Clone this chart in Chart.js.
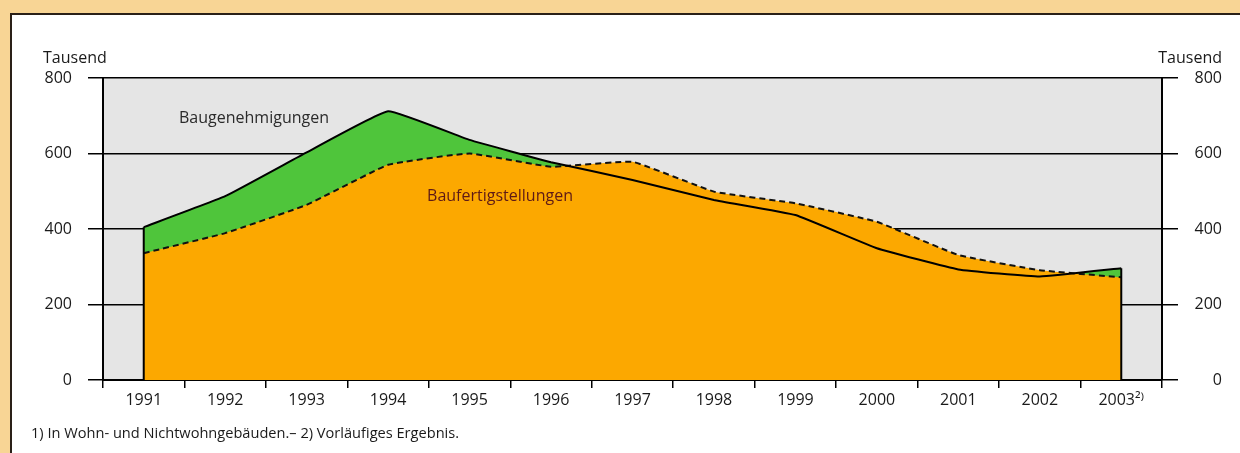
<!DOCTYPE html>
<html><head><meta charset="utf-8">
<script src="https://cdn.jsdelivr.net/npm/chart.js@4/dist/chart.umd.min.js"></script>
<style>
html,body{margin:0;padding:0;overflow:hidden;width:1240px;height:453px;background:#f8d595}
#panel{position:absolute;left:10px;top:13px;width:1240px;height:450px;background:#fff;border-left:2px solid #2a2018;border-top:2px solid #2a2018}
canvas{position:absolute;left:0;top:0;display:block;width:1240px;height:453px}
</style>
</head><body>
<div id="panel"></div>
<canvas id="c" width="1240" height="453"></canvas>
<script>
const years = ['1991','1992','1993','1994','1995','1996','1997','1998','1999','2000','2001','2002','2003\u00B2\u207E'];
const baugenehmigungen   = [405, 487, 603, 712, 636, 577, 530, 477, 437, 349, 293, 274, 296];
const baufertigstellungen = [336, 389, 464, 570, 600, 565, 578, 499, 468, 419, 331, 291, 272];
const yMin = 0, yMax = 800, yStep = 200;
const unitLabel = 'Tausend';
const seriesNames = ['Baugenehmigungen', 'Baufertigstellungen'];
const footnote = '1) In Wohn- und Nichtwohngeb\u00E4uden.\u2013 2) Vorl\u00E4ufiges Ergebnis.';

const FONT = "'Open Sans', 'DejaVu Sans', sans-serif";
Chart.defaults.font.family = FONT;
Chart.defaults.font.size = 16;
Chart.defaults.color = '#1a1a1a';

const framePlugin = {
  id: 'frame',
  beforeDraw(chart) {
    const ctx = chart.ctx, a = chart.chartArea;
    ctx.save();
    ctx.fillStyle = '#e5e5e5';
    ctx.fillRect(a.left, a.top, a.right - a.left, a.bottom - a.top);
    ctx.restore();
  },
  afterDatasetsDraw(chart) {
    const ctx = chart.ctx;
    const xs = chart.scales.x, ys = chart.scales.y;
    ctx.save();
    ctx.strokeStyle = '#000';
    ctx.lineWidth = 2;
    [0, years.length - 1].forEach(i => {
      const px = xs.getPixelForValue(i);
      const top = Math.max(baugenehmigungen[i], baufertigstellungen[i]);
      ctx.beginPath();
      ctx.moveTo(px, ys.getPixelForValue(top));
      ctx.lineTo(px, ys.getPixelForValue(0));
      ctx.stroke();
    });
    ctx.textBaseline = 'middle';
    ctx.font = '16px ' + FONT;
    ctx.fillStyle = '#1a1a1a';
    ctx.textAlign = 'left';
    ctx.fillText(unitLabel, 43, 58);
    ctx.textAlign = 'right';
    ctx.fillText(unitLabel, 1222, 58);
    ctx.textAlign = 'center';
    ctx.fillStyle = '#2b2b2b';
    ctx.fillText(seriesNames[0], 254, 118);
    ctx.fillStyle = '#5e1a16';
    ctx.fillText(seriesNames[1], 500, 196);
    ctx.textAlign = 'left';
    ctx.fillStyle = '#1a1a1a';
    ctx.font = '14.6px ' + FONT;
    ctx.fillText(footnote, 31, 434);
    ctx.restore();
  }
};

new Chart(document.getElementById('c'), {
  type: 'line',
  data: {
    labels: years,
    datasets: [
      { label: seriesNames[0], data: baugenehmigungen, borderColor: '#000', borderWidth: 2,
        fill: false, pointRadius: 0, tension: 0.1, yAxisID: 'y' },
      { label: seriesNames[1], data: baufertigstellungen, borderColor: '#111', borderWidth: 2,
        borderDash: [6, 4], fill: 'origin', backgroundColor: '#fca800', pointRadius: 0, tension: 0.1, yAxisID: 'y' },
      { label: seriesNames[0] + ' (Fl\u00E4che)', data: baugenehmigungen, borderColor: 'rgba(0,0,0,0)', borderWidth: 0,
        fill: 'origin', backgroundColor: '#4fc53b', pointRadius: 0, tension: 0.1, yAxisID: 'y' }
    ]
  },
  options: {
    responsive: false,
    animation: false,
    devicePixelRatio: 1,
    layout: { padding: { top: 78, right: 18, bottom: 0, left: 0 } },
    plugins: { legend: { display: false }, tooltip: { enabled: false } },
    scales: {
      x: {
        type: 'category', offset: true,
        grid: { offset: true, drawOnChartArea: false, drawTicks: true, tickLength: 8, color: '#000', lineWidth: 1.5 },
        border: { display: true, color: '#000', width: 2 },
        ticks: { padding: 3, color: '#1a1a1a', maxRotation: 0, autoSkip: false, font: { size: 16 } },
        afterFit: s => { s.height = 73; }
      },
      y: {
        position: 'left', min: yMin, max: yMax,
        ticks: { stepSize: yStep, padding: 16, color: '#1a1a1a', font: { size: 16 } },
        grid: { color: '#000', lineWidth: 1.5, tickLength: 15 },
        border: { display: true, color: '#000', width: 2 },
        afterFit: s => { s.width = 103; }
      },
      y2: {
        position: 'right', min: yMin, max: yMax,
        ticks: { stepSize: yStep, padding: 15, color: '#1a1a1a', crossAlign: 'far', font: { size: 16 } },
        grid: { drawOnChartArea: false, color: '#000', lineWidth: 1.5, tickLength: 16 },
        border: { display: true, color: '#000', width: 2 },
        afterFit: s => { s.width = 60; }
      }
    }
  },
  plugins: [framePlugin]
});
</script>
</body></html>
